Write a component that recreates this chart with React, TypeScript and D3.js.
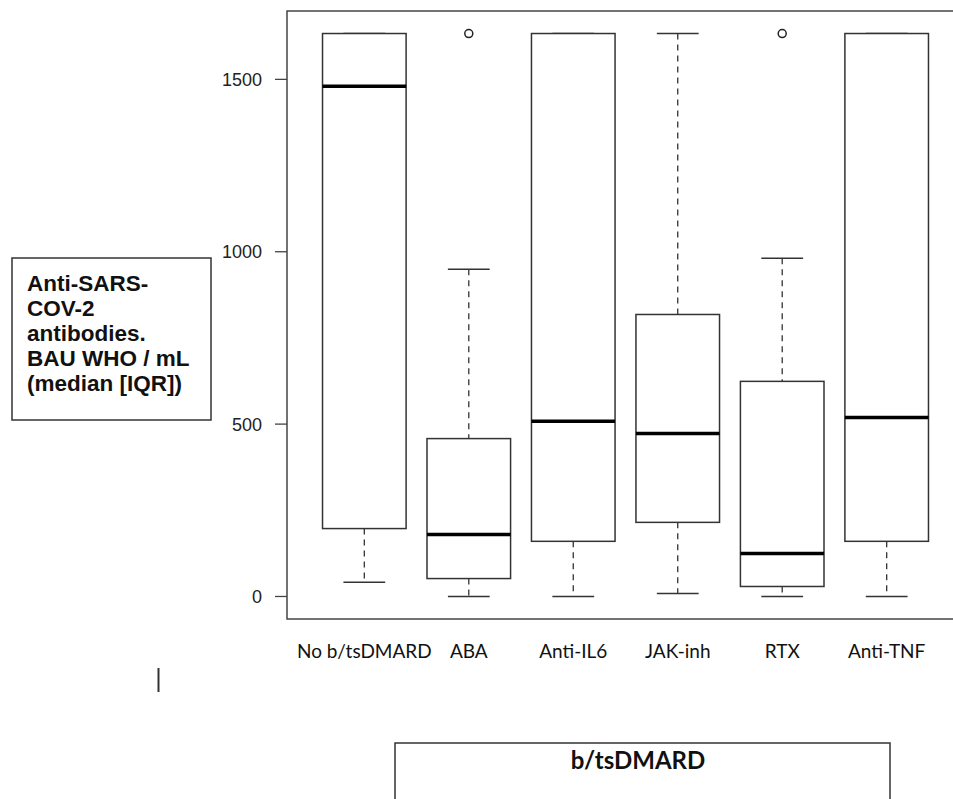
import * as d3 from 'd3'
import { useEffect, useRef } from 'react'

const groups = ['No b/tsDMARD', 'ABA', 'Anti-IL6', 'JAK-inh', 'RTX', 'Anti-TNF']
const lowWhisker = [41, 0, 0, 9, 0, 0]
const q1 = [197, 52, 160, 215, 29, 160]
const medians = [1480, 180, 508, 473, 125, 519]
const q3 = [1633, 458, 1633, 818, 624, 1633]
const highWhisker = [1633, 949, 1633, 1633, 981, 1633]
const outliers = [[], [1633], [], [], [1633], []]
const yTicks = [0, 500, 1000, 1500]
const yTitle = ['Anti-SARS-', 'COV-2', 'antibodies.', 'BAU WHO / mL', '(median [IQR])']
const xTitle = 'b/tsDMARD'

const width = 953, height = 799
const plot = { left: 287, right: 964, top: 11, bottom: 619 }

const chart = (svgNode) => {
  const svg = d3.select(svgNode)
  svg.selectAll('*').remove()

  const ymax = d3.max(highWhisker.concat(...outliers))
  const y = d3.scaleLinear()
    .domain([-0.04 * ymax, 1.04 * ymax])
    .range([plot.bottom, plot.top])
  // R style boxplot: positions 1..n, xlim 0.5..n+0.5 extended 4%
  const n = groups.length
  const x = d3.scaleLinear()
    .domain([0.5 - 0.04 * n, n + 0.5 + 0.04 * n])
    .range([plot.left, plot.right])
  const bw = x(1.4) - x(1)
  const cw = x(1.2) - x(1)

  svg.append('rect')
    .attr('width', width).attr('height', height).attr('fill', 'white')

  // frame
  svg.append('rect')
    .attr('x', plot.left).attr('y', plot.top)
    .attr('width', plot.right - plot.left).attr('height', plot.bottom - plot.top)
    .attr('fill', 'none').attr('stroke', '#444').attr('stroke-width', 1.5)

  // y axis ticks
  const yt = svg.append('g')
  yt.selectAll('line').data(yTicks).join('line')
    .attr('x1', plot.left - 12).attr('x2', plot.left)
    .attr('y1', d => y(d)).attr('y2', d => y(d))
    .attr('stroke', '#444').attr('stroke-width', 1.3)
  yt.selectAll('text').data(yTicks).join('text')
    .attr('x', plot.left - 25).attr('y', d => y(d))
    .attr('dy', '0.36em')
    .attr('text-anchor', 'end')
    .attr('font-family', '"Liberation Sans", Arial, sans-serif')
    .attr('font-size', 18)
    .attr('fill', '#222')
    .text(d => d)

  const g = svg.append('g').selectAll('g').data(groups).join('g')
    .attr('transform', (d, i) => `translate(${x(i + 1)},0)`)

  // whiskers
  g.append('line')
    .attr('y1', (d, i) => y(highWhisker[i])).attr('y2', (d, i) => y(q3[i]))
    .attr('stroke', '#333').attr('stroke-width', 1.3).attr('stroke-dasharray', '6,5')
  g.append('line')
    .attr('y1', (d, i) => y(q1[i])).attr('y2', (d, i) => y(lowWhisker[i]))
    .attr('stroke', '#333').attr('stroke-width', 1.3).attr('stroke-dasharray', '6,5')
  g.append('line')
    .attr('x1', -cw).attr('x2', cw)
    .attr('y1', (d, i) => y(highWhisker[i])).attr('y2', (d, i) => y(highWhisker[i]))
    .attr('stroke', '#333').attr('stroke-width', 1.5)
  g.append('line')
    .attr('x1', -cw).attr('x2', cw)
    .attr('y1', (d, i) => y(lowWhisker[i])).attr('y2', (d, i) => y(lowWhisker[i]))
    .attr('stroke', '#333').attr('stroke-width', 1.5)

  // boxes
  g.append('rect')
    .attr('x', -bw).attr('width', 2 * bw)
    .attr('y', (d, i) => y(q3[i]))
    .attr('height', (d, i) => y(q1[i]) - y(q3[i]))
    .attr('fill', 'white').attr('stroke', '#333').attr('stroke-width', 1.5)
  g.append('line')
    .attr('x1', -bw).attr('x2', bw)
    .attr('y1', (d, i) => y(medians[i])).attr('y2', (d, i) => y(medians[i]))
    .attr('stroke', '#000').attr('stroke-width', 3.5)

  // outliers
  g.selectAll('circle').data((d, i) => outliers[i]).join('circle')
    .attr('cy', d => y(d)).attr('r', 4)
    .attr('fill', 'none').attr('stroke', '#222').attr('stroke-width', 1.5)

  // category labels
  g.append('text')
    .attr('y', 651).attr('dy', '0.35em')
    .attr('text-anchor', 'middle')
    .attr('font-family', 'Lato, sans-serif')
    .attr('font-size', 19)
    .attr('fill', '#111')
    .text(d => d)

  // y title box
  svg.append('rect')
    .attr('x', 12).attr('y', 258).attr('width', 199).attr('height', 162)
    .attr('fill', 'white').attr('stroke', '#333').attr('stroke-width', 1.5)
  svg.append('text')
    .attr('font-family', '"Liberation Sans", Arial, sans-serif')
    .attr('font-weight', 'bold')
    .attr('font-size', 22.5)
    .attr('fill', '#111')
    .selectAll('tspan').data(yTitle).join('tspan')
    .attr('x', 27).attr('y', (d, i) => 291 + i * 25)
    .text(d => d)

  // stray cursor mark
  svg.append('line')
    .attr('x1', 158.5).attr('x2', 158.5).attr('y1', 668).attr('y2', 692)
    .attr('stroke', '#333').attr('stroke-width', 2)

  // x title box
  svg.append('rect')
    .attr('x', 395).attr('y', 743).attr('width', 495).attr('height', 80)
    .attr('fill', 'white').attr('stroke', '#333').attr('stroke-width', 1.5)
  svg.append('text')
    .attr('x', 638).attr('y', 769)
    .attr('text-anchor', 'middle')
    .attr('font-family', 'Lato, sans-serif')
    .attr('font-weight', 'bold')
    .attr('font-size', 24)
    .attr('fill', '#111')
    .text(xTitle)

  return svg.node()
}

export default function App() {
  const svg = useRef(null)
  useEffect(() => {
    if (svg.current) chart(svg.current)
  }, [])
  return (
    <svg ref={svg} width={width} height={height}
      style={{ position: 'absolute', left: 0, top: 0 }} />
  )
}
